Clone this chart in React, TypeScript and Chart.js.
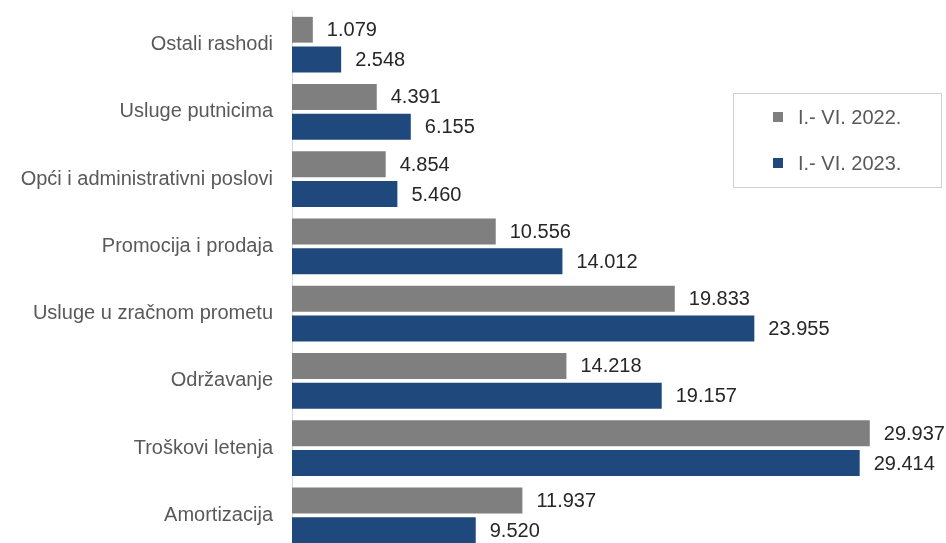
import React, { useEffect, useRef } from "react";
import { Chart, registerables } from "chart.js";

Chart.register(...registerables);

const categories = [
  "Ostali rashodi",
  "Usluge putnicima",
  "Opći i administrativni poslovi",
  "Promocija i prodaja",
  "Usluge u zračnom prometu",
  "Održavanje",
  "Troškovi letenja",
  "Amortizacija",
];
const series2022 = [1079, 4391, 4854, 10556, 19833, 14218, 29937, 11937];
const series2023 = [2548, 6155, 5460, 14012, 23955, 19157, 29414, 9520];
const seriesNames = ["I.- VI. 2022.", "I.- VI. 2023."];
const colors = ["#7F7F7F", "#1F497D"];

const FONT = "'Liberation Sans', Arial, sans-serif";

function fmt(n: number): string {
  return String(n).replace(/\B(?=(\d{3})+(?!\d))/g, ".");
}

const labelPlugin = {
  id: "valueLabels",
  afterDatasetsDraw(chart: any) {
    const ctx = chart.ctx;
    ctx.save();
    ctx.font = `20px ${FONT}`;
    ctx.fillStyle = "#262626";
    ctx.textAlign = "left";
    ctx.textBaseline = "middle";
    chart.data.datasets.forEach((ds: any, di: number) => {
      const meta = chart.getDatasetMeta(di);
      meta.data.forEach((el: any, i: number) => {
        ctx.fillText(fmt(ds.data[i]), el.x + 14, el.y + 1);
      });
    });
    ctx.restore();
  },
};

const legendPlugin = {
  id: "boxLegend",
  afterDraw(chart: any) {
    const ctx = chart.ctx;
    ctx.save();
    const x0 = 733, y0 = 93, w = 208, h = 94;
    ctx.fillStyle = "#ffffff";
    ctx.fillRect(x0, y0, w, h);
    ctx.strokeStyle = "#D0D0D0";
    ctx.lineWidth = 1;
    ctx.strokeRect(x0 + 0.5, y0 + 0.5, w, h);
    ctx.font = `20px ${FONT}`;
    ctx.textBaseline = "middle";
    ctx.textAlign = "left";
    const ys = [117, 163];
    seriesNames.forEach((name, i) => {
      ctx.fillStyle = colors[i];
      ctx.fillRect(773, ys[i] - 5, 10, 10);
      ctx.fillStyle = "#595959";
      ctx.fillText(name, 798, ys[i] + 1);
    });
    ctx.restore();
  },
};

export default function App() {
  const ref = useRef<HTMLCanvasElement>(null);
  useEffect(() => {
    if (!ref.current) return;
    const chart = new Chart(ref.current, {
      type: "bar",
      data: {
        labels: categories,
        datasets: [
          { label: seriesNames[0], data: series2022, backgroundColor: colors[0] },
          { label: seriesNames[1], data: series2023, backgroundColor: colors[1] },
        ],
      },
      options: {
        indexAxis: "y",
        animation: false,
        responsive: false,
        maintainAspectRatio: false,
        layout: { padding: { top: 11, bottom: 11, right: 75, left: 0 } },
        datasets: { bar: { categoryPercentage: 0.886, barPercentage: 0.866 } },
        plugins: { legend: { display: false }, tooltip: { enabled: false } },
        scales: {
          x: { display: false, min: 0, max: 30000 },
          y: {
            grid: { display: false, drawTicks: false },
            border: { display: true, color: "#D9D9D9", width: 1 },
            ticks: {
              color: "#595959",
              font: { family: FONT, size: 20 },
              padding: 19,
            },
            afterFit(scale: any) {
              scale.width = 292;
              scale.paddingTop = 0;
              scale.paddingBottom = 0;
            },
          },
        },
      },
      plugins: [labelPlugin, legendPlugin],
    } as any);
    return () => chart.destroy();
  }, []);
  return (
    <div
      style={{
        position: "fixed",
        left: 0,
        top: 0,
        width: 946,
        height: 543,
        overflow: "hidden",
        background: "#fff",
      }}
    >
      <canvas ref={ref} width={946} height={560} style={{ width: 946, height: 560 }} />
    </div>
  );
}
